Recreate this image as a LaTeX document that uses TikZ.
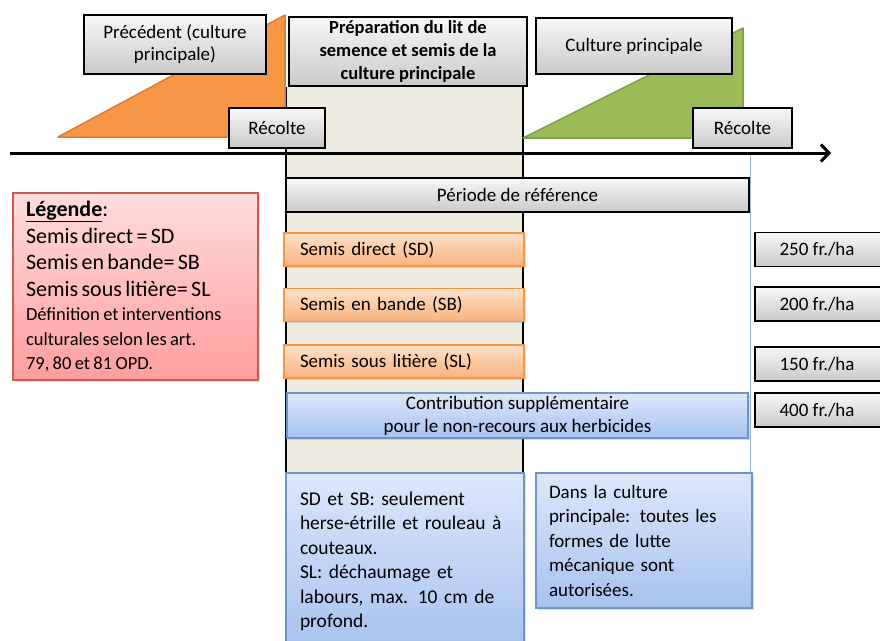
\documentclass[tikz,border=0pt]{standalone}
\usepackage{fontspec}
\setmainfont{Carlito}
\usetikzlibrary{shadows,arrows.meta}
\definecolor{orangeT}{HTML}{F79646}
\definecolor{orangeD}{HTML}{E07B2E}
\definecolor{greenT}{HTML}{9BBB59}
\definecolor{greenD}{HTML}{7E9E45}
\definecolor{beigeC}{HTML}{EEECE1}
\definecolor{blueL}{HTML}{DCE7FA}
\definecolor{blueM}{HTML}{A7C2EF}
\definecolor{blueD}{HTML}{6F95C8}
\definecolor{pinkL}{HTML}{FFDCDC}
\definecolor{pinkM}{HTML}{FF9E9E}
\definecolor{redD}{HTML}{C85A57}
\definecolor{orangeL}{HTML}{FDE1C9}
\definecolor{orangeM}{HTML}{F9B27C}
\newcommand{\boxfont}{\fontsize{19}{22}\selectfont}
\begin{document}
\begin{tikzpicture}[x=1pt,y=-1pt,
  greybox/.style={draw=black,line width=1.6pt,top color=gray!6,bottom color=gray!42,
    inner sep=0pt,align=center,font=\boxfont},
  sowbox/.style={draw=orangeT,line width=1.2pt,top color=orangeL,bottom color=orangeM,
    inner xsep=16pt,inner ysep=0pt,align=left,font=\boxfont,
    drop shadow={shadow xshift=1.5pt,shadow yshift=-1.5pt,opacity=.25}},
  bluebox/.style={draw=blueD,line width=1.2pt,top color=blueL,bottom color=blueM,
    inner sep=0pt,font=\fontsize{19}{24.5}\selectfont,
    drop shadow={shadow xshift=1.5pt,shadow yshift=-1.5pt,opacity=.25}},
  pricebox/.style={greybox,minimum width=135pt,minimum height=34pt}]
\useasboundingbox (0,0) rectangle (880,640);
% colonne de preparation
\fill[beigeC] (287,87) rectangle (523,473);
\draw[line width=1.2pt] (286,87) -- (286,473) (523,87) -- (523,473);
\draw[blueD!70,line width=.8pt] (750,153) -- (750,473);
% cultures
\filldraw[fill=orangeT,draw=orangeD,line width=1.5pt,line join=round]
  (58,137) -- (285,137) -- (285,15) -- cycle;
\filldraw[fill=greenT,draw=greenD,line width=1.5pt,line join=round]
  (523,138) -- (743,138) -- (743,28) -- cycle;
% axe du temps
\draw[line width=3pt,-{Straight Barb[length=8pt,width=17pt]}] (10,153) -- (831,153);
% etapes
\node[greybox,minimum width=182pt,minimum height=59pt] (prec) at (175,44.5)
  {Précédent (culture\\ principale)};
\node[greybox,minimum width=238pt,minimum height=69pt,font=\fontsize{18.5}{23}\selectfont\bfseries]
  (prep) at (408,51.5) {Préparation du lit de\\ semence et semis de la\\ culture principale};
\node[greybox,minimum width=196pt,minimum height=56pt] (cult) at (634,46) {Culture principale};
\node[greybox,minimum width=96pt,minimum height=40pt] (recA) at (277,128) {Récolte};
\node[greybox,minimum width=99pt,minimum height=40pt] (recB) at (742.5,128) {Récolte};
\node[greybox,minimum width=463pt,minimum height=34pt] (ref) at (517.5,195) {Période de référence};
% techniques de semis
\node[sowbox,text width=208pt,minimum height=33pt] (sd) at (404,249.5) {Semis direct (SD)};
\node[sowbox,text width=208pt,minimum height=33pt] (sb) at (404,305) {Semis en bande (SB)};
\node[sowbox,text width=208pt,minimum height=33pt] (sl) at (404,361.5) {Semis sous litière (SL)};
\node[bluebox,minimum width=461pt,minimum height=45pt,align=center,
  font=\fontsize{19}{23}\selectfont] (herb) at (517.5,415.5)
  {Contribution supplémentaire\\ pour le non-recours aux herbicides};
% contributions
\node[pricebox] (pSD) at (822.5,249.5) {250 fr./ha\hspace*{11pt}};
\node[pricebox] (pSB) at (822.5,304) {200 fr./ha\hspace*{11pt}};
\node[pricebox] (pSL) at (822.5,364) {150 fr./ha\hspace*{11pt}};
\node[pricebox] (pHerb) at (822.5,410) {400 fr./ha\hspace*{11pt}};
% remarques
\node[bluebox,minimum width=238pt,minimum height=177pt,text width=210pt,
  inner xsep=14pt,align=left,font=\fontsize{19.5}{24.5}\selectfont] (noteA) at (405,561.5)
  {SD et SB: seulement\\ herse-étrille et rouleau à\\ couteaux.\\ SL: déchaumage et\\
   labours, max. 10 cm de\\ profond.};
\node[bluebox,minimum width=216pt,minimum height=135pt,text width=190pt,
  inner xsep=13pt,align=left] (noteB) at (644,540.5)
  {Dans la culture\\ principale: toutes les\\ formes de lutte\\ mécanique sont\\ autorisées.};
% legende
\node[draw=redD,line width=1.2pt,top color=pinkL,bottom color=pinkM,
  minimum width=245pt,minimum height=187pt,text width=219pt,inner xsep=13pt,
  align=left,drop shadow={shadow xshift=1.5pt,shadow yshift=-1.5pt,opacity=.25}]
  (leg) at (135.5,286.5)
  {{\fontsize{22}{26.5}\selectfont\textbf{\underline{Légende}}:\\ Semis direct = SD\\
   Semis en bande= SB\\ Semis sous litière= SL\par}
   {\fontsize{18.5}{24.5}\selectfont Définition et interventions\\ culturales selon les art.\\
   79, 80 et 81 OPD.\par}};
\end{tikzpicture}
\end{document}
